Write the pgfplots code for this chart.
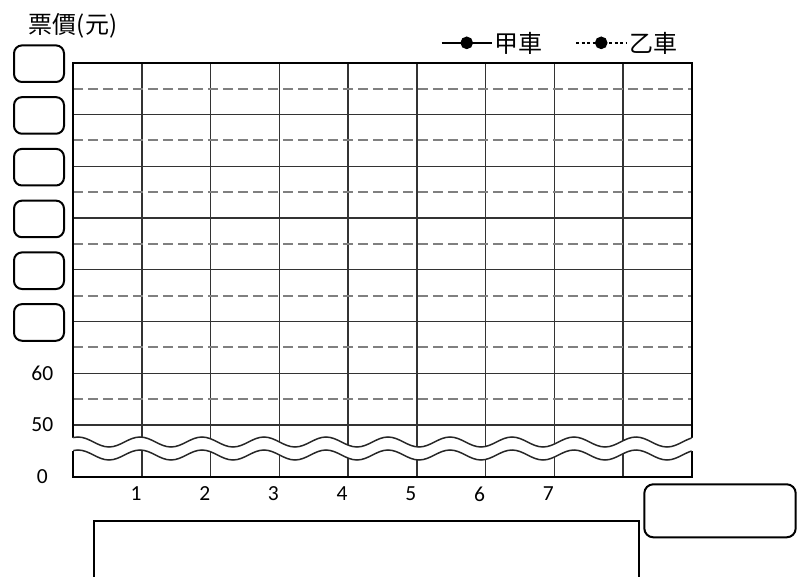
\documentclass[border=0pt]{standalone}
\usepackage{pgfplots}
\pgfplotsset{compat=1.18}
\usepackage{fontspec}
\setmainfont{Carlito}
\newfontfamily\cjk{Noto Sans CJK TC}
\begin{document}
\begin{tikzpicture}
\path[use as bounding box] (0pt,0pt) rectangle (805pt,-577pt);
\begin{axis}[
  at={(73.3pt,-476.7pt)}, anchor=south west,
  scale only axis, width=618.4pt, height=414pt,
  xmin=0, xmax=9, ymin=0, ymax=8,
  xtick={1,...,8}, xticklabels={1,2,3,4,5,6,7,{}},
  ytick={0,...,8}, yticklabels={0,50,60,{},{},{},{},{},{}},
  minor ytick={1.5,2.5,...,7.5},
  xmajorgrids, ymajorgrids, yminorgrids,
  major grid style={black!80, line width=1.3pt},
  minor grid style={black!50, line width=2pt, dash pattern=on 10pt off 5pt},
  major tick length=0pt, minor tick length=0pt,
  axis line style={black, line width=2.2pt},
  /pgf/number format/assume math mode=true,
  tick label style={font=\fontsize{21.5}{25}\selectfont},
  xticklabel style={anchor=center, yshift=-17.3pt, xshift=-6pt},
  yticklabel style={anchor=center, xshift=-31pt},
  legend style={draw=none, fill=none, at={(0.787,1.048)}, anchor=center,
    font=\cjk\fontsize{24}{28}\selectfont, legend columns=2,
    /tikz/every even column/.append style={column sep=30pt}},
  legend image code/.code={\draw[mark repeat=2,mark phase=2,#1] plot coordinates {(0pt,0pt) (25pt,0pt) (50pt,0pt)};},
]
\addlegendimage{black, line width=2.5pt, mark=*, mark size=5pt, mark options={solid}}
\addlegendentry{甲車}
\addlegendimage{black, line width=2.5pt, dash pattern=on 3pt off 2.5pt, mark=*, mark size=5pt, mark options={solid}}
\addlegendentry{乙車}
\end{axis}
% axis break
\begin{scope}
\clip (70.5pt,-420pt) rectangle (694.5pt,-470pt);
\fill[white] (16pt,-437pt) \foreach \k in {1,...,12} { cos ++(15.5pt,-5pt) sin ++(15.5pt,-5pt) cos ++(15.5pt,5pt) sin ++(15.5pt,5pt) }
  -- (760pt,-450pt) \foreach \k in {1,...,12} { cos ++(-15.5pt,-5pt) sin ++(-15.5pt,-5pt) cos ++(-15.5pt,5pt) sin ++(-15.5pt,5pt) } -- cycle;
\end{scope}
\begin{scope}
\clip (73.3pt,-420pt) rectangle (691.7pt,-470pt);
\draw[black!85, line width=1.5pt] (16pt,-437pt) \foreach \k in {1,...,12} { cos ++(15.5pt,-5pt) sin ++(15.5pt,-5pt) cos ++(15.5pt,5pt) sin ++(15.5pt,5pt) };
\draw[black!85, line width=1.5pt] (16pt,-450pt) \foreach \k in {1,...,12} { cos ++(15.5pt,-5pt) sin ++(15.5pt,-5pt) cos ++(15.5pt,5pt) sin ++(15.5pt,5pt) };
\end{scope}
% answer boxes
\foreach \c in {63.7,115.45,167.2,218.95,270.7,322.45} {
  \draw[line width=2pt, rounded corners=8pt] (14pt,-\c pt) ++(0pt,18.3pt) rectangle ++(50pt,-36.6pt);
}
\draw[line width=2pt, rounded corners=9pt] (644.3pt,-484.3pt) rectangle (795.7pt,-537.3pt);
\draw[line width=2.2pt] (94pt,-590pt) -- (94pt,-521pt) -- (639pt,-521pt) -- (639pt,-590pt);
\node[font=\cjk\fontsize{24}{28}\selectfont] at (73pt,-26pt) {票價(元)};
\end{tikzpicture}
\end{document}
